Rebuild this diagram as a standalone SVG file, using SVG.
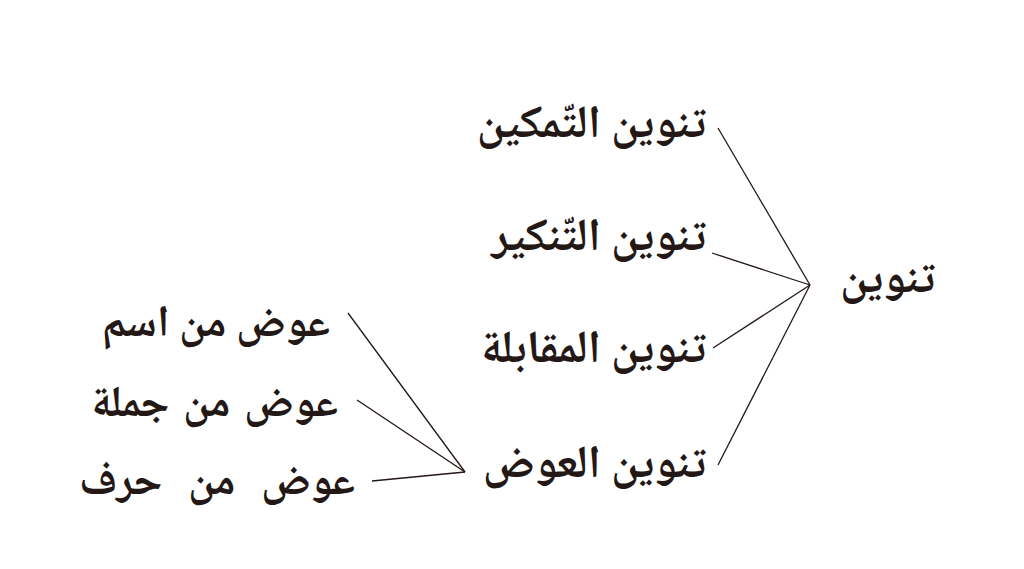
<svg xmlns="http://www.w3.org/2000/svg" width="1024" height="569" viewBox="0 0 1024 569">
<style>
.t{font-family:"Noto Naskh Arabic","Amiri","DejaVu Sans",sans-serif;font-weight:bold;fill:#231815;text-anchor:end}
.b{font-size:46px}
.s{font-size:44px}
.c line{stroke:#231815;stroke-width:1.3}
</style>
<rect width="1024" height="569" fill="#fff"/>
<g class="c">
<line x1="718" y1="128" x2="810" y2="285"/>
<line x1="712" y1="253" x2="810" y2="285"/>
<line x1="713" y1="348" x2="810" y2="285"/>
<line x1="718" y1="465" x2="810" y2="285"/>
<line x1="348" y1="313" x2="465" y2="472"/>
<line x1="357" y1="400" x2="465" y2="472"/>
<line x1="372" y1="481" x2="465" y2="472"/>
</g>
<g id="root"><text class="t b" x="935" y="292">تنوين</text></g>
<g id="n1"><text class="t b" x="706" y="137">تنوين التّمكين</text></g>
<g id="n2"><text class="t b" x="706" y="250">تنوين التّنكير</text></g>
<g id="n3"><text class="t b" x="706" y="362">تنوين المقابلة</text></g>
<g id="n4"><text class="t b" x="706" y="477">تنوين العوض</text></g>
<g id="m1"><text class="t s" x="330" y="336">عوض من اسم</text></g>
<g id="m2"><text class="t s" x="338" y="416" word-spacing="4">عوض من جملة</text></g>
<g id="m3"><text class="t s" x="355" y="494" word-spacing="16">عوض من حرف</text></g>
</svg>
